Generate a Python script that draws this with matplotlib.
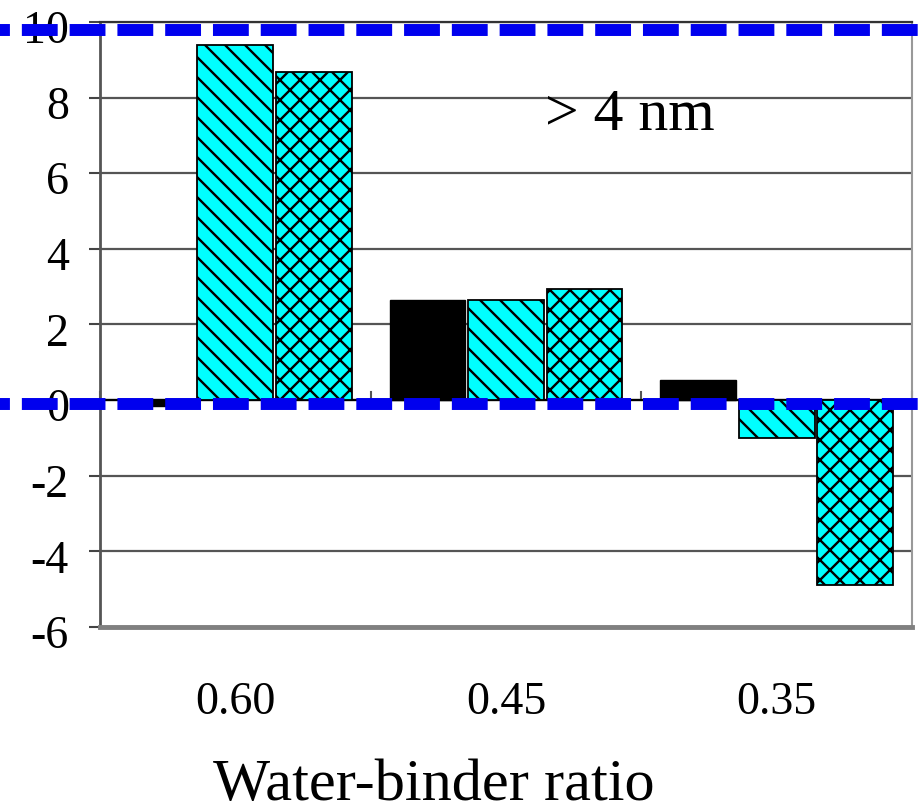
import matplotlib
matplotlib.use("Agg")
import matplotlib.pyplot as plt
import matplotlib.transforms as mtransforms
from matplotlib.lines import Line2D
from matplotlib.backend_bases import GraphicsContextBase
import numpy as np

# Water-binder ratios on the x axis
categories = ["0.60", "0.45", "0.35"]

# Change values for the three series (pores > 4 nm)
series_black = [-0.15, 2.65, 0.52]
series_diag = [9.38, 2.65, -1.0]
series_cross = [8.67, 2.95, -4.9]

y_ticks = [-6, -4, -2, 0, 2, 4, 6, 8, 10]

# hatch density tuned for this figure (even values tile seamlessly)
_orig_hatch_path = GraphicsContextBase.get_hatch_path


def _tuned_hatch_path(self, density=10.0):
    return _orig_hatch_path(self, density)


GraphicsContextBase.get_hatch_path = _tuned_hatch_path

plt.rcParams["font.family"] = ["Liberation Serif", "DejaVu Serif"]
plt.rcParams["hatch.linewidth"] = 1.7
plt.rcParams["hatch.color"] = "black"

fig = plt.figure(figsize=(9.22, 8.06), dpi=100)
ax = fig.add_axes([0.1085, 0.2221, 0.8807, 0.7506])

x = np.arange(len(categories))
step = 0.29
width = 0.28

ax.bar(x - step, series_black, width, color="black", edgecolor="black", lw=1, zorder=3)
ax.bar(x, series_diag, width, color="#00FFFF", edgecolor="black", lw=1.3, hatch="\\", zorder=3)
ax.bar(x + step, series_cross, width, color="#00FFFF", edgecolor="black", lw=1.3, hatch="x", zorder=3)

ax.set_xlim(-0.5, len(categories) - 0.5)
ax.set_ylim(-6, 10)
ax.set_yticks(y_ticks)
ax.set_yticklabels([str(t) for t in y_ticks])
ax.tick_params(axis="y", direction="out", length=8, width=1.5, color="#444444",
               labelsize=33, pad=14.5)
shift = mtransforms.ScaledTranslation(0, -5 / 100, fig.dpi_scale_trans)
for lab in ax.get_yticklabels():
    lab.set_transform(lab.get_transform() + shift)

# category labels sit below the frame; boundary ticks sit on the zero line
ax.set_xticks(x)
ax.set_xticklabels(categories)
ax.tick_params(axis="x", length=0, labelsize=33, pad=39)
for b in np.arange(len(categories) + 1) - 0.5:
    ax.plot([b, b], [0, 0.22], color="#555555", lw=1.5, zorder=2, clip_on=False)

ax.grid(axis="y", color="#555555", lw=1.6, zorder=0)
ax.set_axisbelow(True)
ax.axhline(0, color="black", lw=1.6, zorder=2)

ax.spines["top"].set_color("#333333")
ax.spines["top"].set_linewidth(1.6)
ax.spines["right"].set_color("#999999")
ax.spines["right"].set_linewidth(1.5)
ax.spines["left"].set_color("#555555")
ax.spines["left"].set_linewidth(2.0)
ax.spines["bottom"].set_color("#808080")
ax.spines["bottom"].set_linewidth(3.5)

fig.text(434 / 922, 1 - 800 / 806, "Water-binder ratio", fontsize=43.5,
         ha="center", va="baseline")

fig.text(545 / 922, 1 - 130 / 806, "> 4 nm", fontsize=43,
         ha="left", va="baseline")

# blue dashed reference lines across the full figure width
trans = mtransforms.blended_transform_factory(fig.transFigure, ax.transData)
for yv in (9.8, -0.1):
    ln = Line2D([0, 1], [yv, yv], transform=trans, color="#0000EE", lw=8.6,
                linestyle=(2.17, (3.0, 1.0)), zorder=10,
                dash_capstyle="butt", solid_capstyle="butt")
    fig.add_artist(ln)

fig.savefig("out.png", dpi=100, facecolor="white")
